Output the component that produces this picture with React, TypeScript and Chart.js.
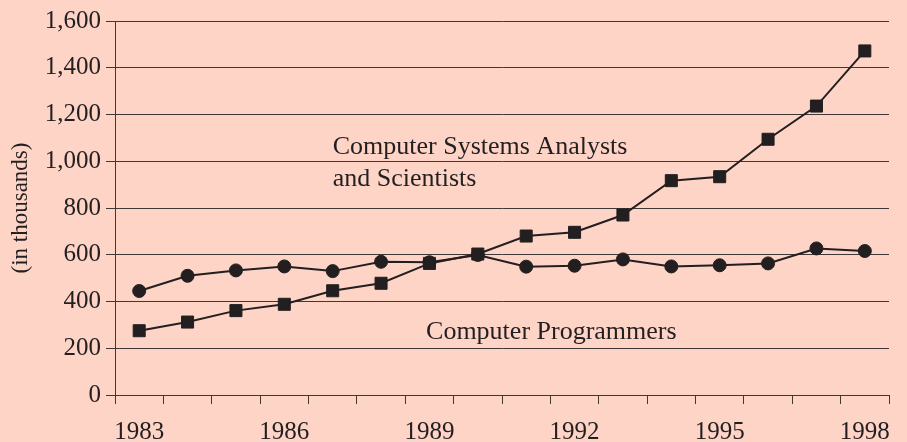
import React, { useEffect, useRef } from "react";
import { Chart, registerables } from "chart.js";

Chart.register(...registerables);

const years = ["1983","1984","1985","1986","1987","1988","1989","1990","1991","1992","1993","1994","1995","1996","1997","1998"];
const analysts = [275, 312, 361, 388, 446, 478, 563, 603, 680, 696, 770, 917, 934, 1094, 1236, 1472];
const programmers = [445, 510, 533, 550, 530, 570, 568, 599, 549, 553, 580, 550, 555, 563, 627, 616];
const yTicks = [0, 200, 400, 600, 800, 1000, 1200, 1400, 1600];
const annotations = [
  { text: "Computer Systems Analysts", x: 4, y: 1062 },
  { text: "and Scientists", x: 4, y: 922 },
  { text: "Computer Programmers", x: 5.93, y: 270 },
];

const INK = "#231f20";
const BG = "#fdd4c6";
const GRID = "#3f3837";
const FONT = "'Liberation Serif', 'Times New Roman', serif";

export default function App() {
  const ref = useRef<HTMLCanvasElement | null>(null);
  useEffect(() => {
    document.body.style.margin = "0";
    const annotationPlugin = {
      id: "labels",
      afterDatasetsDraw(chart: any) {
        const { ctx, scales } = chart;
        ctx.save();
        ctx.fillStyle = INK;
        ctx.font = `26px ${FONT}`;
        ctx.textAlign = "left";
        ctx.textBaseline = "middle";
        annotations.forEach((a) => {
          ctx.fillText(a.text, scales.x.getPixelForValue(a.x), scales.y.getPixelForValue(a.y));
        });
        ctx.restore();
      },
    };
    const chart = new Chart(ref.current as HTMLCanvasElement, {
      type: "line",
      data: {
        labels: years,
        datasets: [
          {
            label: "Computer Systems Analysts and Scientists",
            data: analysts,
            borderColor: INK,
            backgroundColor: INK,
            borderWidth: 2,
            pointStyle: "rect",
            pointRadius: 8.5,
            pointBorderWidth: 1,
            tension: 0,
          },
          {
            label: "Computer Programmers",
            data: programmers,
            borderColor: INK,
            backgroundColor: INK,
            borderWidth: 2,
            pointStyle: "circle",
            pointRadius: 6.5,
            pointBorderWidth: 1,
            tension: 0,
          },
        ],
      },
      options: {
        animation: false,
        responsive: true,
        maintainAspectRatio: false,
        layout: { padding: { top: 21, right: 18, left: 0, bottom: 0 } },
        plugins: { legend: { display: false }, tooltip: { enabled: false } },
        scales: {
          x: {
            type: "category",
            offset: true,
            grid: {
              offset: true,
              drawOnChartArea: false,
              drawTicks: true,
              tickLength: 9,
              color: GRID,
              lineWidth: 1,
            },
            border: { display: true, color: GRID, width: 1 },
            ticks: {
              autoSkip: false,
              maxRotation: 0,
              padding: 13,
              color: INK,
              font: { family: FONT, size: 25 },
              callback: (_v: any, i: number) => (i % 3 === 0 ? years[i] : ""),
            },
            afterFit: (s: any) => { s.height = 47; },
          },
          y: {
            min: 0,
            max: 1600,
            afterBuildTicks: (s: any) => { s.ticks = yTicks.map((v) => ({ value: v })); },
            grid: {
              drawOnChartArea: true,
              drawTicks: true,
              tickLength: 9,
              color: GRID,
              lineWidth: 1,
            },
            border: { display: true, color: GRID, width: 1 },
            ticks: {
              padding: 5,
              color: INK,
              font: { family: FONT, size: 25 },
              callback: (v: any) => Number(v).toLocaleString("en-US"),
            },
            title: {
              display: true,
              text: "(in thousands)",
              color: INK,
              font: { family: FONT, size: 23 },
              padding: { top: 7, bottom: 0 },
            },
            afterFit: (s: any) => { s.width = 115; },
          },
        },
      },
      plugins: [annotationPlugin],
    });
    return () => chart.destroy();
  }, []);
  return (
    <div style={{ width: 907, height: 442, background: BG, position: "relative" }}>
      <canvas ref={ref} />
    </div>
  );
}
